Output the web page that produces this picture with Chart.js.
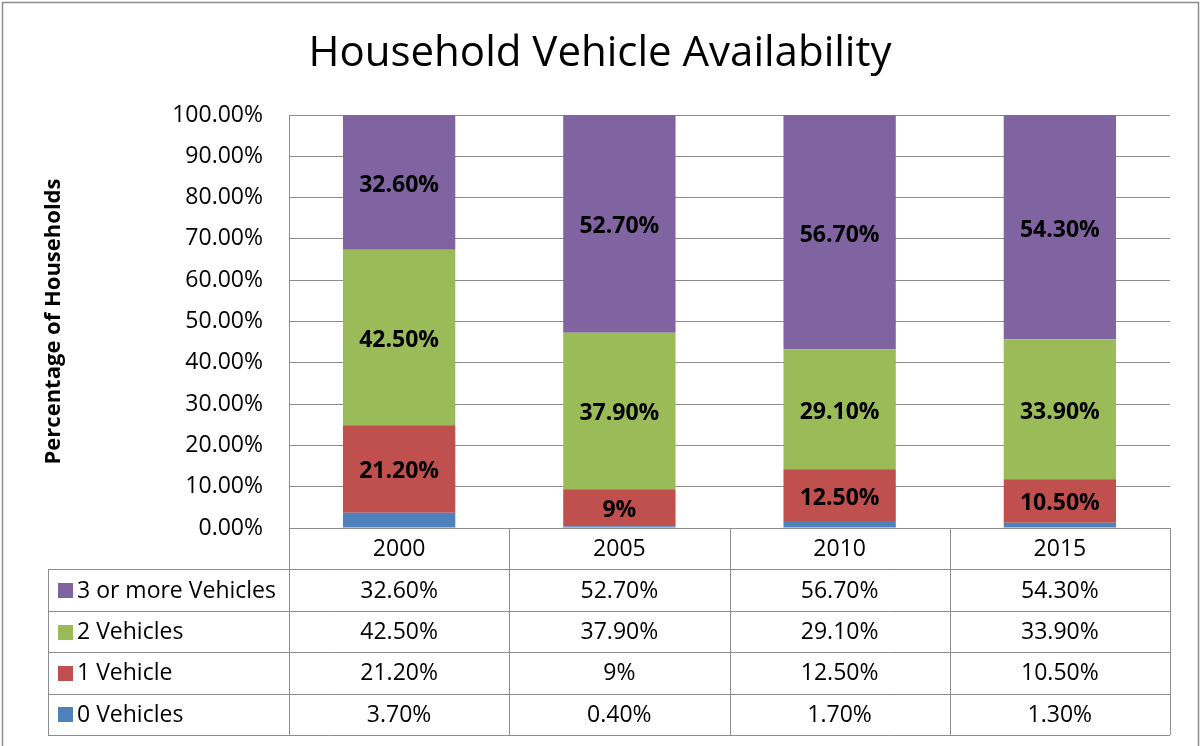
<!DOCTYPE html>
<html>
<head>
<meta charset="utf-8">
<title>Household Vehicle Availability</title>
<script src="https://cdn.jsdelivr.net/npm/chart.js@4.4.1/dist/chart.umd.min.js"></script>
<style>
  html, body { margin: 0; padding: 0; background: #fff; }
  #wrap { width: 1200px; height: 746px; }
</style>
</head>
<body>
<div id="wrap"><canvas id="vehicleChart" width="1200" height="746"></canvas></div>
<script>
// data
const years = ["2000", "2005", "2010", "2015"];
const zeroVehicles = [3.7, 0.4, 1.7, 1.3];
const oneVehicle = [21.2, 9, 12.5, 10.5];
const twoVehicles = [42.5, 37.9, 29.1, 33.9];
const threeVehicles = [32.6, 52.7, 56.7, 54.3];
const seriesNames = ["0 Vehicles", "1 Vehicle", "2 Vehicles", "3 or more Vehicles"];
const seriesColors = ["#4f81bd", "#c0504d", "#9bbb59", "#8064a2"];

const FONT = "'Open Sans', Lato, sans-serif";
const lineColor = "#8c8c8c";

// excel shows 9 as "9%", others with two decimals
const pct = (v) => (Number.isInteger(v) ? v + "%" : v.toFixed(2) + "%");

const datasets = [zeroVehicles, oneVehicle, twoVehicles, threeVehicles].map((vals, i) => ({
  label: seriesNames[i],
  data: vals,
  backgroundColor: seriesColors[i],
  borderWidth: 0,
  barPercentage: 0.51,
  categoryPercentage: 1,
  showLabel: i > 0,
}));

// title, bar labels, data table and frame
const extras = {
  id: "extras",
  afterDraw(chart) {
    const ctx = chart.ctx;
    const area = chart.chartArea;
    const xs = chart.scales.x;
    ctx.save();

    // outer frame
    ctx.strokeStyle = "#8c8c8c";
    ctx.lineWidth = 1.5;
    ctx.strokeRect(2.5, 2.5, 1196, 800);

    // title
    ctx.fillStyle = "#000";
    ctx.font = "42px " + FONT;
    ctx.textAlign = "center";
    ctx.textBaseline = "middle";
    ctx.fillText("Household Vehicle Availability", 600, 54);

    // labels inside the segments
    ctx.font = "bold 23px " + FONT;
    chart.data.datasets.forEach((ds, di) => {
      if (!ds.showLabel) return;
      chart.getDatasetMeta(di).data.forEach((bar, i) => {
        const p = bar.getProps(["x", "y", "base"], true);
        ctx.fillText(pct(ds.data[i]), p.x, (p.y + p.base) / 2 + 3);
      });
    });

    // data table
    const rowH = 41.4;
    const top = area.bottom;
    const colW = (area.right - area.left) / years.length;
    const legendLeft = 48;
    const bottom = top + rowH * 5;
    ctx.strokeStyle = lineColor;
    ctx.lineWidth = 1;
    ctx.beginPath();
    ctx.moveTo(area.left, Math.round(top) + 0.5);
    ctx.lineTo(area.right, Math.round(top) + 0.5);
    for (let r = 1; r <= 5; r++) {
      const y = Math.round(top + rowH * r) + 0.5;
      ctx.moveTo(legendLeft, y);
      ctx.lineTo(area.right, y);
    }
    ctx.moveTo(legendLeft + 0.5, top + rowH);
    ctx.lineTo(legendLeft + 0.5, bottom);
    ctx.moveTo(Math.round(area.left) + 0.5, top);
    ctx.lineTo(Math.round(area.left) + 0.5, bottom);
    years.forEach((y, i) => {
      const x = Math.round(xs.getPixelForValue(i) + colW / 2) + 0.5;
      ctx.moveTo(x, top);
      ctx.lineTo(x, bottom);
    });
    ctx.stroke();

    ctx.fillStyle = "#000";
    ctx.font = "23px " + FONT;
    ctx.textAlign = "center";
    years.forEach((y, i) => {
      ctx.fillText(y, xs.getPixelForValue(i), top + rowH / 2 + 1);
    });

    // rows: top row is the top of the stack
    for (let r = 0; r < 4; r++) {
      const di = 3 - r;
      const ds = chart.data.datasets[di];
      const cy = top + rowH * (r + 1) + rowH / 2 + 1;
      ctx.fillStyle = seriesColors[di];
      ctx.fillRect(58, Math.round(cy - 8), 15, 15);
      ctx.fillStyle = "#000";
      ctx.textAlign = "left";
      ctx.fillText(ds.label, 77, cy);
      ctx.textAlign = "center";
      ds.data.forEach((v, i) => {
        ctx.fillText(pct(v), xs.getPixelForValue(i), cy);
      });
    }
    ctx.restore();
  },
};

const vctx = document.getElementById("vehicleChart").getContext("2d");

const vChart = new Chart(vctx, {
  type: "bar",
  data: { labels: years, datasets },
  options: {
    responsive: false,
    animation: false,
    devicePixelRatio: 1,
    layout: { padding: { top: 115, right: 30, bottom: 218, left: 40 } },
    plugins: {
      legend: { display: false },
      tooltip: { enabled: false },
      title: { display: false },
    },
    scales: {
      x: {
        stacked: true,
        display: false,
      },
      y: {
        stacked: true,
        min: 0,
        max: 100,
        afterFit: (scale) => { scale.width = 249; },
        ticks: {
          stepSize: 10,
          color: "#000",
          padding: 26,
          font: { family: FONT, size: 23 },
          callback: (v) => v.toFixed(2) + "%",
        },
        grid: { color: lineColor, drawTicks: false },
        border: { color: lineColor },
        title: {
          display: true,
          text: "Percentage of Households",
          color: "#000",
          padding: { top: 1, bottom: 0 },
          font: { family: FONT, size: 22, weight: "bold" },
        },
      },
    },
  },
  plugins: [extras],
});
</script>
</body>
</html>
